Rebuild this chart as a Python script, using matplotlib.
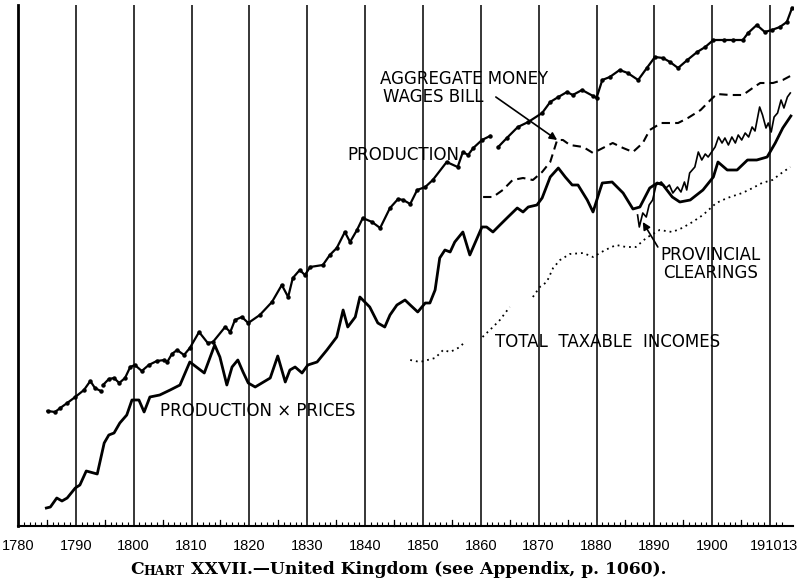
import numpy as np
import matplotlib
matplotlib.use('Agg')
import matplotlib.pyplot as plt
import matplotlib.transforms as mtrans

# values are heights on the chart's (unlabelled) ratio scale
prod_years = [1785.1, 1786.4, 1787.3, 1788.5, 1789.9, 1791.4, 1792.5, 1793.3, 1794.3, 1794.5,
              1794.7, 1795.7, 1796.6, 1797.5, 1798.5, 1799.4, 1800.2, 1801.4, 1802.6, 1804.0,
              1805.3, 1805.8, 1806.6, 1807.5, 1808.7, 1809.7, 1811.3, 1812.8, 1813.7, 1815.8,
              1816.7, 1817.5, 1818.7, 1819.8, 1821.8, 1823.9, 1825.6, 1826.7, 1827.5, 1828.7,
              1829.6, 1830.5, 1832.7, 1833.9, 1835.1, 1836.5, 1837.4, 1838.6, 1839.6, 1841.2,
              1842.6, 1844.3, 1845.7, 1846.6, 1847.8, 1849.0, 1850.4, 1851.7, 1854.1, 1856.0,
              1856.9, 1857.8, 1858.7, 1860.2, 1861.6, 1862.3,
              1863.0, 1864.5, 1866.4, 1868.2, 1870.6, 1872.0, 1873.4, 1874.9, 1875.9, 1877.5,
              1879.4, 1880.0, 1881.0, 1882.3, 1884.0, 1885.4, 1887.2, 1888.7, 1890.1, 1891.5,
              1892.7, 1894.1, 1895.7, 1897.4, 1898.8, 1900.2, 1902.0, 1903.6, 1905.3, 1906.2,
              1907.7, 1909.1, 1910.3, 1911.7, 1912.9, 1913.8]
prod_vals = [115, 114, 118, 123, 129, 136, 145, 138, 135, np.nan,
             141, 147, 148, 143, 148, 159, 161, 155, 161, 165,
             166, 164, 172, 176, 171, 178, 194, 183, 184, 199,
             194, 206, 209, 203, 211, 224, 241, 229, 248, 256,
             251, 259, 261, 271, 278, 294, 284, 296, 308, 304,
             298, 318, 327, 326, 322, 336, 339, 346, 364, 359,
             374, 371, 378, 386, 390, np.nan,
             379, 388, 399, 404, 413, 424, 429, 434, 431, 436,
             430, 428, 446, 449, 456, 453, 446, 458, 469, 468,
             464, 458, 466, 474, 479, 486, 486, 486, 486, 493,
             501, 494, 496, 499, 504, 518]

pxp_years = [1784.9, 1785.6, 1786.7, 1787.6, 1788.5, 1789.9, 1790.7, 1791.8, 1793.7, 1794.9,
             1795.7, 1796.6, 1797.6, 1798.8, 1799.7, 1800.9, 1801.8, 1802.8, 1804.5, 1806.3,
             1808.0, 1809.7, 1812.2, 1814.0, 1814.9, 1816.1, 1817.0, 1818.0, 1818.9, 1819.8,
             1821.0, 1823.6, 1824.9, 1826.2, 1827.0, 1827.9, 1829.1, 1830.1, 1831.7, 1833.4,
             1835.1, 1836.2, 1837.0, 1838.3, 1839.1, 1840.8, 1842.2, 1843.4, 1844.3, 1845.5,
             1846.9, 1847.8, 1849.1, 1850.4, 1851.2, 1852.1, 1852.9, 1853.8, 1854.7, 1855.5,
             1856.9, 1858.1, 1860.2, 1861.0, 1862.1, 1863.3, 1864.7, 1866.3, 1867.3, 1868.2,
             1869.7, 1870.6, 1872.0, 1873.4, 1874.6, 1875.8, 1876.8, 1878.4, 1879.4, 1880.6,
             1881.0, 1882.7, 1884.6, 1886.3, 1887.5, 1889.2, 1890.5, 1891.5, 1893.1, 1894.4,
             1896.2, 1898.4, 1900.2, 1901.0, 1902.6, 1904.3, 1906.1, 1907.7, 1909.5, 1910.9,
             1912.2, 1913.6]
pxp_vals = [18, 19, 28, 25, 28, 38, 41, 55, 52, 83,
            91, 93, 103, 111, 126, 126, 114, 129, 131, 136,
            141, 164, 153, 181, 169, 141, 159, 166, 154, 143,
            139, 148, 170, 144, 156, 159, 153, 161, 164, 176,
            189, 216, 199, 209, 229, 219, 203, 199, 211, 221,
            226, 221, 214, 223, 223, 236, 268, 276, 274, 284,
            294, 271, 299, 299, 294, 301, 309, 318, 314, 319,
            321, 328, 349, 358, 349, 341, 341, 326, 314, 336,
            343, 344, 333, 317, 319, 338, 343, 341, 329, 324,
            326, 336, 349, 364, 356, 356, 366, 366, 369, 383,
            398, 410]

wages_years = [1860.4, 1862.1, 1863.8, 1865.5, 1867.3, 1869.0, 1870.6, 1872.0, 1873.2, 1874.2,
               1875.4, 1877.7, 1879.4, 1881.1, 1882.8, 1884.6, 1886.3, 1888.0, 1889.2, 1891.2,
               1894.1, 1895.8, 1898.0, 1899.7, 1900.8, 1903.1, 1905.3, 1907.0, 1908.3, 1910.5,
               1912.2, 1913.5]
wages_vals = [329, 329, 336, 346, 348, 346, 354, 364, 386, 386,
              381, 379, 373, 378, 383, 378, 374, 383, 396, 403,
              403, 408, 416, 426, 432, 431, 431, 438, 443, 443,
              446, 450]

income_years = [1842.6, 1843.1, 1847.8, 1849.5, 1852.1, 1853.5, 1854.7, 1856.4, 1857.2, 1858.5,
                1860.3, 1862.1, 1863.3, 1865.0, 1867.0,
                1869.0, 1870.2, 1871.4, 1872.5, 1873.7, 1875.4, 1877.7, 1879.4, 1881.5, 1883.4,
                1885.1, 1886.8, 1888.6, 1890.9, 1893.1, 1894.8, 1896.6, 1898.4, 1900.7, 1902.6,
                1905.2, 1907.0, 1908.6, 1910.4, 1912.0, 1913.5]
income_vals = [163, np.nan, 166, 164, 168, 176, 174, 179, 184, np.nan,
               189, 199, 206, 219, np.nan,
               229, 239, 244, 258, 266, 272, 273, 269, 276, 281,
               279, 279, 288, 296, 294, 298, 304, 311, 323, 328,
               333, 338, 343, 346, 353, 359]

clear_years = [1887.1, 1887.4, 1888.0, 1888.6, 1889.1, 1889.7, 1890.3, 1891.2, 1892.0, 1892.6,
               1893.2, 1894.0, 1894.6, 1895.2, 1895.6, 1896.1, 1897.0, 1897.6, 1898.2, 1898.8,
               1899.3, 1899.9, 1900.5, 1901.1, 1901.7, 1902.2, 1902.8, 1903.4, 1904.0, 1904.5,
               1905.1, 1905.7, 1906.3, 1906.9, 1907.4, 1908.2, 1908.7, 1909.3, 1909.7, 1910.2,
               1910.7, 1911.3, 1911.9, 1912.4, 1913.0, 1913.5]
clear_vals = [311, 299, 313, 309, 321, 326, 341, 344, 338, 341,
              333, 339, 334, 344, 336, 353, 359, 374, 366, 372,
              369, 374, 379, 389, 383, 388, 381, 389, 383, 391,
              386, 393, 389, 399, 395, 419, 411, 398, 403, 394,
              409, 413, 426, 418, 429, 433]

decades = list(range(1790, 1911, 10))
tick_pos = list(range(1780, 1911, 10)) + [1913]
tick_lab = [str(y) for y in range(1780, 1911, 10)] + ['13']

fig = plt.figure(figsize=(8.02, 5.80), dpi=100)
ax = fig.add_axes([18 / 802, 54 / 580, 775 / 802, 521 / 580])
ax.set_xlim(1780, 1780 + 775 / 5.785)
ax.set_ylim(0, 521)

for d in decades:
    ax.axvline(d, color='k', lw=1.1, zorder=1)

ax.plot(prod_years, prod_vals, color='k', lw=1.6, marker='o', ms=2.2, zorder=3)
ax.plot(pxp_years, pxp_vals, color='k', lw=2.0, zorder=3)
ax.plot(wages_years, wages_vals, color='k', lw=1.5, ls=(0, (4, 2.5)), zorder=3)
ax.plot(income_years, income_vals, color='k', lw=1.3, ls=(0, (1, 2.2)), zorder=3)
ax.plot(clear_years, clear_vals, color='k', lw=1.2, zorder=3)

for s in ['top', 'right']:
    ax.spines[s].set_visible(False)
ax.spines['left'].set_linewidth(2.0)
ax.spines['bottom'].set_linewidth(1.5)

ax.set_yticks([])
ax.set_xticks(tick_pos)
ax.set_xticklabels(tick_lab, fontsize=10.5, family='Liberation Sans')
ax.set_xticks(range(1780, 1914), minor=True)
ax.tick_params(axis='x', which='major', length=0, pad=9)
ax.tick_params(axis='x', which='minor', direction='in', length=3, width=0.8)
# "1910" and "13" sit close together: nudge them apart a little
labels = ax.get_xticklabels()
labels[-2].set_transform(labels[-2].get_transform() + mtrans.ScaledTranslation(-4 / 100, 0, fig.dpi_scale_trans))
labels[-1].set_transform(labels[-1].get_transform() + mtrans.ScaledTranslation(3 / 100, 0, fig.dpi_scale_trans))
# longer ticks every five years
for y in range(1785, 1914, 10):
    ax.plot([y, y], [0, 6], color='k', lw=0.9, clip_on=False, zorder=2)

lab = dict(fontsize=12, family='DejaVu Sans', color='k')
ax.text(1842.6, 442, 'AGGREGATE MONEY', **lab)
ax.text(1843.1, 424, 'WAGES BILL', **lab)
ax.text(1836.9, 366, 'PRODUCTION', **lab)
ax.text(1804.5, 110, 'PRODUCTION × PRICES', **lab)
ax.text(1862.5, 179, 'TOTAL  TAXABLE  INCOMES', **lab)
ax.text(1891.0, 266, 'PROVINCIAL', **lab)
ax.text(1891.5, 248, 'CLEARINGS', **lab)

arr = dict(arrowstyle='-|>', color='k', lw=1.2, mutation_scale=11, shrinkA=0, shrinkB=0)
ax.annotate('', xy=(1873.2, 386), xytext=(1862.6, 429), arrowprops=arr)
ax.annotate('', xy=(1888.0, 304), xytext=(1890.6, 279), arrowprops=arr)

# caption with small caps "CHART"
cap = dict(family='DejaVu Serif', weight='bold', color='k')
t1 = fig.text(130 / 802, 1 - 574 / 580, 'C', fontsize=12.3, **cap)
t2 = ax.annotate('HART', xy=(1, 0), xycoords=t1, va='bottom', ha='left', fontsize=9, **cap)
ax.annotate(' XXVII.—United Kingdom (see Appendix, p. 1060).', xy=(1, 0), xycoords=t2,
            va='bottom', ha='left', fontsize=12.3, **cap)

fig.savefig('out.png', dpi=100)
